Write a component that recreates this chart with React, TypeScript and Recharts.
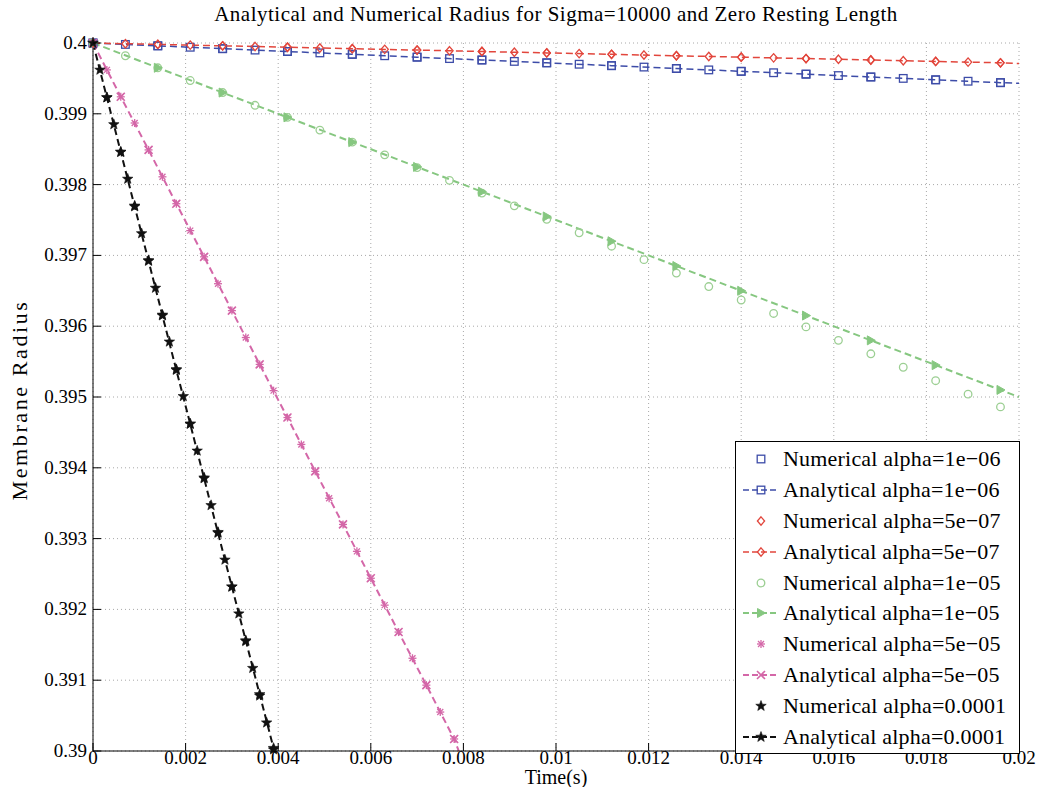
import React from "react";
import { ComposedChart, Line, Scatter, XAxis, YAxis, CartesianGrid, Legend } from "recharts";

const FONT = '"Liberation Serif", "Times New Roman", serif';

const BLUE = "#3d4ca8";
const RED = "#e2463c";
const GREEN = "#86c780";
const GREEN_PT = "#9ccf93";
const PINK = "#d467a8";
const BLACK = "#111111";

const xTicks = [0, 0.002, 0.004, 0.006, 0.008, 0.01, 0.012, 0.014, 0.016, 0.018, 0.02];
const yTicks = [0.39, 0.391, 0.392, 0.393, 0.394, 0.395, 0.396, 0.397, 0.398, 0.399, 0.4];

// numerical samples for the three slow cases
const tSlow = [
  0, 0.0007, 0.0014, 0.0021, 0.0028, 0.0035, 0.0042, 0.0049, 0.0056, 0.0063, 0.007, 0.0077,
  0.0084, 0.0091, 0.0098, 0.0105, 0.0112, 0.0119, 0.0126, 0.0133, 0.014, 0.0147, 0.0154,
  0.0161, 0.0168, 0.0175, 0.0182, 0.0189, 0.0196,
];
const blueNum = [
  0.4, 0.39998, 0.39996, 0.39994, 0.39992, 0.3999, 0.39988, 0.39986, 0.39984, 0.39982, 0.3998,
  0.39978, 0.39976, 0.39974, 0.39972, 0.3997, 0.39968, 0.39966, 0.39964, 0.39962, 0.3996,
  0.39958, 0.39956, 0.39954, 0.39952, 0.3995, 0.39948, 0.39946, 0.39944,
];
const redNum = [
  0.4, 0.39999, 0.39998, 0.39997, 0.39996, 0.39995, 0.39994, 0.39993, 0.39992, 0.39991, 0.3999,
  0.39989, 0.39988, 0.39987, 0.39986, 0.39985, 0.39984, 0.39983, 0.39982, 0.39981, 0.3998,
  0.39979, 0.39978, 0.39977, 0.39976, 0.39975, 0.39974, 0.39973, 0.39972,
];
const greenNum = [
  0.4, 0.39982, 0.39965, 0.39947, 0.3993, 0.39912, 0.39895, 0.39877, 0.3986, 0.39842, 0.39824,
  0.39806, 0.39788, 0.3977, 0.39751, 0.39732, 0.39713, 0.39694, 0.39675, 0.39656, 0.39637,
  0.39618, 0.39599, 0.3958, 0.39561, 0.39542, 0.39523, 0.39504, 0.39486,
];

// analytical curves for the slow cases
const tSlowLine = [
  0, 0.0014, 0.0028, 0.0042, 0.0056, 0.007, 0.0084, 0.0098, 0.0112, 0.0126, 0.014, 0.0154,
  0.0168, 0.0182, 0.0196, 0.02,
];
const blueLine = [
  0.4, 0.39996, 0.39992, 0.39988, 0.39984, 0.3998, 0.39976, 0.39972, 0.39968, 0.39964, 0.3996,
  0.39956, 0.39952, 0.39948, 0.39944, 0.39943,
];
const redLine = [
  0.4, 0.39998, 0.39996, 0.39994, 0.39992, 0.3999, 0.39988, 0.39986, 0.39984, 0.39982, 0.3998,
  0.39978, 0.39976, 0.39974, 0.39972, 0.39971,
];
const greenLine = [
  0.4, 0.39965, 0.3993, 0.39895, 0.3986, 0.39825, 0.3979, 0.39755, 0.3972, 0.39685, 0.3965,
  0.39615, 0.3958, 0.39545, 0.3951, 0.395,
];

// alpha = 5e-05
const tPink = [
  0, 0.0003, 0.0006, 0.0009, 0.0012, 0.0015, 0.0018, 0.0021, 0.0024, 0.0027, 0.003, 0.0033,
  0.0036, 0.0039, 0.0042, 0.0045, 0.0048, 0.0051, 0.0054, 0.0057, 0.006, 0.0063, 0.0066,
  0.0069, 0.0072, 0.0075, 0.0078,
];
const pinkNum = [
  0.4, 0.39962, 0.39924, 0.39887, 0.39849, 0.39811, 0.39773, 0.39735, 0.39698, 0.3966, 0.39622,
  0.39584, 0.39546, 0.39509, 0.39471, 0.39433, 0.39395, 0.39357, 0.3932, 0.39282, 0.39244,
  0.39206, 0.39168, 0.39131, 0.39093, 0.39055, 0.39017,
];
const tPinkLine = [
  0, 0.0006, 0.0012, 0.0018, 0.0024, 0.003, 0.0036, 0.0042, 0.0048, 0.0054, 0.006, 0.0066,
  0.0072, 0.0078, 0.0079,
];
const pinkLine = [
  0.4, 0.39924, 0.39849, 0.39773, 0.39698, 0.39622, 0.39546, 0.39471, 0.39395, 0.3932, 0.39244,
  0.39168, 0.39093, 0.39017, 0.39,
];

// alpha = 0.0001
const tBlack = [
  0, 0.00015, 0.0003, 0.00045, 0.0006, 0.00075, 0.0009, 0.00105, 0.0012, 0.00135, 0.0015,
  0.00165, 0.0018, 0.00195, 0.0021, 0.00225, 0.0024, 0.00255, 0.0027, 0.00285, 0.003, 0.00315,
  0.0033, 0.00345, 0.0036, 0.00375, 0.0039,
];
const blackNum = [
  0.4, 0.39962, 0.39923, 0.39885, 0.39846, 0.39808, 0.3977, 0.39731, 0.39693, 0.39654, 0.39616,
  0.39578, 0.39539, 0.39501, 0.39462, 0.39424, 0.39386, 0.39347, 0.39309, 0.3927, 0.39232,
  0.39194, 0.39155, 0.39117, 0.39078, 0.3904, 0.39002,
];
const tBlackLine = [
  0, 0.0003, 0.0006, 0.0009, 0.0012, 0.0015, 0.0018, 0.0021, 0.0024, 0.0027, 0.003, 0.0033,
  0.0036, 0.0039,
];
const blackLine = [
  0.4, 0.39923, 0.39846, 0.39769, 0.39692, 0.39615, 0.39538, 0.39462, 0.39385, 0.39308, 0.39232,
  0.39156, 0.3908, 0.39004,
];

const rows = (ts: number[], rs: number[]) => ts.map((t, i) => ({ t, r: rs[i] }));

type Kind = "square" | "diamond" | "circle" | "triangle" | "asterisk" | "cross" | "star";

function starPoints(cx: number, cy: number, R: number, r: number) {
  const pts: string[] = [];
  for (let i = 0; i < 10; i++) {
    const a = -Math.PI / 2 + (i * Math.PI) / 5;
    const rad = i % 2 === 0 ? R : r;
    pts.push(`${cx + rad * Math.cos(a)},${cy + rad * Math.sin(a)}`);
  }
  return pts.join(" ");
}

function Marker({ kind, cx, cy, color }: { kind: Kind; cx?: number; cy?: number; color: string }) {
  if (cx == null || cy == null || isNaN(cx) || isNaN(cy)) return null;
  const sw = 1.3;
  switch (kind) {
    case "square":
      return <rect x={cx - 3.8} y={cy - 3.8} width={7.6} height={7.6} fill="none" stroke={color} strokeWidth={sw} />;
    case "diamond":
      return (
        <polygon
          points={`${cx},${cy - 4.2} ${cx + 3.6},${cy} ${cx},${cy + 4.2} ${cx - 3.6},${cy}`}
          fill="none"
          stroke={color}
          strokeWidth={sw}
        />
      );
    case "circle":
      return <circle cx={cx} cy={cy} r={3.8} fill="none" stroke={color} strokeWidth={sw} />;
    case "triangle":
      return (
        <polygon
          points={`${cx + 4.5},${cy} ${cx - 3.5},${cy - 4.5} ${cx - 3.5},${cy + 4.5}`}
          fill={color}
          stroke={color}
          strokeWidth={1}
        />
      );
    case "asterisk":
      return (
        <g stroke={color} strokeWidth={1.3}>
          <line x1={cx - 4} y1={cy} x2={cx + 4} y2={cy} />
          <line x1={cx} y1={cy - 4} x2={cx} y2={cy + 4} />
          <line x1={cx - 3} y1={cy - 3} x2={cx + 3} y2={cy + 3} />
          <line x1={cx - 3} y1={cy + 3} x2={cx + 3} y2={cy - 3} />
        </g>
      );
    case "cross":
      return (
        <g stroke={color} strokeWidth={1.6}>
          <line x1={cx - 4} y1={cy - 4} x2={cx + 4} y2={cy + 4} />
          <line x1={cx - 4} y1={cy + 4} x2={cx + 4} y2={cy - 4} />
        </g>
      );
    case "star":
      return <polygon points={starPoints(cx, cy, 5.5, 2.3)} fill={color} stroke={color} strokeWidth={0.6} />;
  }
  return null;
}

interface SeriesDef {
  label: string;
  color: string;
  ptColor: string;
  numKind: Kind;
  lineKind: Kind;
  num: { t: number; r: number }[];
  line: { t: number; r: number }[];
  skipLast: boolean;
  width: number;
}

const series: SeriesDef[] = [
  { label: "1e\u221206", color: BLUE, ptColor: BLUE, numKind: "square", lineKind: "square", num: rows(tSlow, blueNum), line: rows(tSlowLine, blueLine), skipLast: true, width: 1.5 },
  { label: "5e\u221207", color: RED, ptColor: RED, numKind: "diamond", lineKind: "diamond", num: rows(tSlow, redNum), line: rows(tSlowLine, redLine), skipLast: true, width: 1.5 },
  { label: "1e\u221205", color: GREEN, ptColor: GREEN_PT, numKind: "circle", lineKind: "triangle", num: rows(tSlow, greenNum), line: rows(tSlowLine, greenLine), skipLast: true, width: 2 },
  { label: "5e\u221205", color: PINK, ptColor: PINK, numKind: "asterisk", lineKind: "cross", num: rows(tPink, pinkNum), line: rows(tPinkLine, pinkLine), skipLast: true, width: 2 },
  { label: "0.0001", color: BLACK, ptColor: BLACK, numKind: "star", lineKind: "star", num: rows(tBlack, blackNum), line: rows(tBlackLine, blackLine), skipLast: false, width: 2 },
];

const TICK_FS = 19;
const TICK_LEN = 8;

const BottomTick = (p: any) => (
  <g>
    <line x1={p.x} y1={p.y} x2={p.x} y2={p.y - TICK_LEN} stroke="#000" />
    <text
      x={p.x}
      y={p.y + 13}
      textAnchor="middle"
      fontSize={TICK_FS}
      style={{ fontFamily: FONT }}
      fill="#000"
    >
      {String(p.payload.value)}
    </text>
  </g>
);
const LeftTick = (p: any) => (
  <g>
    <line x1={p.x} y1={p.y} x2={p.x + TICK_LEN} y2={p.y} stroke="#000" />
    <text
      x={p.x - 6}
      y={p.y + 6}
      textAnchor="end"
      fontSize={TICK_FS}
      style={{ fontFamily: FONT }}
      fill="#000"
    >
      {String(p.payload.value)}
    </text>
  </g>
);
const TopTick = (p: any) => <line x1={p.x} y1={p.y} x2={p.x} y2={p.y + TICK_LEN} stroke="#000" />;
const RightTick = (p: any) => <line x1={p.x} y1={p.y} x2={p.x - TICK_LEN} y2={p.y} stroke="#000" />;

const LegendBox = () => {
  const items: { text: string; s: SeriesDef; analytical: boolean }[] = [];
  series.forEach((s) => {
    items.push({ text: `Numerical alpha=${s.label}`, s, analytical: false });
    items.push({ text: `Analytical alpha=${s.label}`, s, analytical: true });
  });
  return (
    <div
      style={{
        width: "100%",
        height: "100%",
        boxSizing: "border-box",
        border: "1px solid #000",
        background: "#fff",
        padding: "2px 0 2px 6px",
        fontFamily: FONT,
      }}
    >
      {items.map((it, i) => (
        <div key={i} style={{ display: "flex", alignItems: "center", height: 30.8 }}>
          <svg width={38} height={20} style={{ flex: "none" }}>
            {it.analytical && (
              <line x1={1} y1={10} x2={37} y2={10} stroke={it.s.color} strokeWidth={it.s.width} strokeDasharray="6 3" />
            )}
            <Marker
              kind={it.analytical ? it.s.lineKind : it.s.numKind}
              cx={19}
              cy={10}
              color={it.analytical ? it.s.color : it.s.ptColor}
            />
          </svg>
          <span
            style={{
              marginLeft: 3,
              fontSize: 22,
              letterSpacing: 0.2,
              color: "#000",
              whiteSpace: "nowrap",
              fontFamily: FONT,
            }}
          >
            {it.text}
          </span>
        </div>
      ))}
    </div>
  );
};

export default function App() {
  return (
    <div
      style={{
        position: "absolute",
        left: 0,
        top: 0,
        width: 1050,
        height: 787,
        background: "#fff",
        fontFamily: FONT,
        overflow: "hidden",
      }}
    >
      <div
        style={{
          position: "absolute",
          left: 93,
          width: 926,
          top: 2,
          textAlign: "center",
          fontSize: 21,
          letterSpacing: 0.5,
          lineHeight: "24px",
          color: "#000",
          whiteSpace: "nowrap",
        }}
      >
        Analytical and Numerical Radius for Sigma=10000 and Zero Resting Length
      </div>
      <div
        style={{
          position: "absolute",
          left: 20,
          top: 400,
          transform: "translate(-50%, -50%) rotate(-90deg)",
          fontSize: 22,
          letterSpacing: 2.6,
          whiteSpace: "nowrap",
          color: "#000",
        }}
      >
        Membrane Radius
      </div>
      <div
        style={{
          position: "absolute",
          left: 93,
          width: 926,
          top: 768,
          textAlign: "center",
          fontSize: 20,
          lineHeight: "18px",
          color: "#000",
        }}
      >
        Time(s)
      </div>
      <ComposedChart width={1050} height={787} margin={{ top: 43, right: 31, bottom: 0, left: 0 }}>
        <CartesianGrid xAxisId="b" yAxisId="l" stroke="#a8a8a8" strokeDasharray="1 3" />
        <XAxis
          xAxisId="b"
          dataKey="t"
          type="number"
          domain={[0, 0.02]}
          ticks={xTicks}
          interval={0}
          height={36}
          axisLine={{ stroke: "#000" }}
          tickLine={false}
          tickSize={0}
          tickMargin={0}
          tick={BottomTick}
        />
        <XAxis
          xAxisId="top"
          orientation="top"
          dataKey="t"
          type="number"
          domain={[0, 0.02]}
          ticks={xTicks}
          interval={0}
          height={0}
          axisLine={{ stroke: "#000" }}
          tickLine={false}
          tickSize={0}
          tickMargin={0}
          tick={TopTick}
        />
        <YAxis
          yAxisId="l"
          dataKey="r"
          type="number"
          domain={[0.39, 0.4]}
          ticks={yTicks}
          interval={0}
          width={93}
          axisLine={{ stroke: "#000" }}
          tickLine={false}
          tickSize={0}
          tickMargin={0}
          tick={LeftTick}
        />
        <YAxis
          yAxisId="r"
          orientation="right"
          dataKey="r"
          type="number"
          domain={[0.39, 0.4]}
          ticks={yTicks}
          interval={0}
          width={0}
          axisLine={{ stroke: "#000" }}
          tickLine={false}
          tickSize={0}
          tickMargin={0}
          tick={RightTick}
        />
        {series.map((s, si) => (
          <Line
            key={`line-${si}`}
            xAxisId="b"
            yAxisId="l"
            data={s.line}
            dataKey="r"
            type="linear"
            stroke={s.color}
            strokeWidth={s.width}
            strokeDasharray="7 4"
            isAnimationActive={false}
            legendType="none"
            dot={(p: any) => (
              <g key={`d-${si}-${p.index}`}>
                {s.skipLast && p.index === s.line.length - 1 ? null : (
                  <Marker kind={s.lineKind} cx={p.cx} cy={p.cy} color={s.color} />
                )}
              </g>
            )}
            activeDot={false}
          />
        ))}
        {series.map((s, si) => (
          <Scatter
            key={`num-${si}`}
            xAxisId="b"
            yAxisId="l"
            data={s.num}
            dataKey="r"
            isAnimationActive={false}
            legendType="none"
            shape={(p: any) => <Marker kind={s.numKind} cx={p.cx} cy={p.cy} color={s.ptColor} />}
          />
        ))}
        <Legend
          layout="vertical"
          align="center"
          verticalAlign="middle"
          wrapperStyle={{ left: 735, top: 441, width: 285, height: 313 }}
          content={() => <LegendBox />}
        />
      </ComposedChart>
    </div>
  );
}
